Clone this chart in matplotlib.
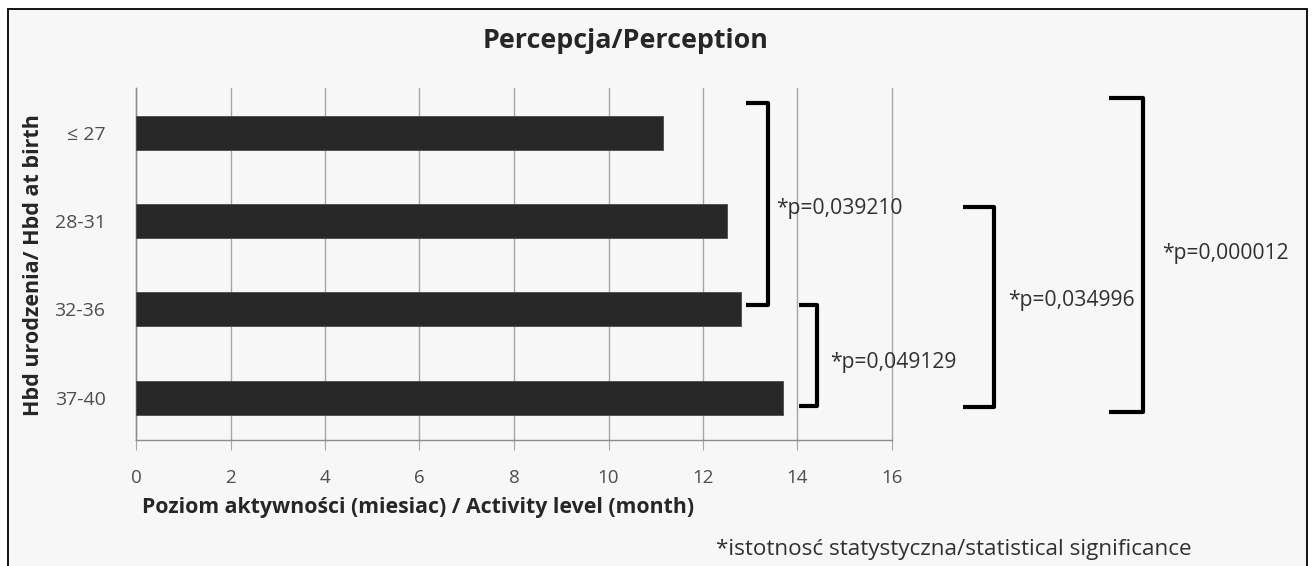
import matplotlib
matplotlib.use("Agg")
import matplotlib.pyplot as plt
from matplotlib.patches import Rectangle

# ---- data ----
categories = ["≤ 27", "28-31", "32-36", "37-40"]
values = [11.15, 12.5, 12.8, 13.7]
xticks = [0, 2, 4, 6, 8, 10, 12, 14, 16]
p_labels = ["*p=0,039210", "*p=0,049129", "*p=0,034996", "*p=0,000012"]
# which groups each comparison links (first, last)
p_pairs = [(0, 2), (2, 3), (1, 3), (0, 3)]

title = "Percepcja/Perception"
ylabel = "Hbd urodzenia/ Hbd at birth"
xlabel = "Poziom aktywności (miesiac) / Activity level (month)"
footnote = "*istotnosć statystyczna/statistical significance"

# ---- layout / style (not data) ----
plt.rcParams['font.family'] = ['Open Sans', 'DejaVu Sans']
W, H = 1312, 566
fig = plt.figure(figsize=(W / 100, H / 100), dpi=100)
fig.patch.set_facecolor("white")

# outer frame (open at the bottom)
frame = Rectangle((8 / W, -0.05), (1307 - 8) / W, 1.05 - 9 / H,
                  transform=fig.transFigure, facecolor="#f7f7f7",
                  edgecolor="black", linewidth=1.3, zorder=-10)
fig.patches.append(frame)

ax = fig.add_axes([136 / W, 1 - 440 / H, (892 - 136) / W, (440 - 88) / H])
ax.set_facecolor("none")
ax.set_zorder(1)

ypos = list(range(len(categories)))
ax.barh(ypos, values, height=0.385, color="#282828", edgecolor="#4a4a4a",
        linewidth=0.6, zorder=3)
ax.set_yticks(ypos)
ax.set_yticklabels(categories)
ax.set_ylim(3.48, -0.504)
ax.set_xlim(0, 16)
ax.set_xticks(xticks)
ax.set_xticklabels([str(t) for t in xticks])
ax.grid(axis="x", color="#a6a6a6", linewidth=1.0, zorder=0)
ax.grid(axis="y", visible=False)
for gl in ax.get_xgridlines():
    gl.set_clip_on(False)
for s in ["top", "right"]:
    ax.spines[s].set_visible(False)
for s in ["left", "bottom"]:
    ax.spines[s].set_color("#8c8c8c")
    ax.spines[s].set_linewidth(1.0)
ax.tick_params(axis="x", length=7, color="#a6a6a6", labelsize=13.5,
               labelcolor="#4d4d4d", pad=14)
ax.tick_params(axis="y", length=0, labelsize=14, labelcolor="#4d4d4d", pad=22)

# significance brackets: (x_open, x_bar, y_top, y_bottom, text_x, text_y)
bracket_geom = [
    (12.90, 13.38, -0.334, 1.95, 13.55, 0.855),
    (14.04, 14.41, 1.95, 3.09, 14.69, 2.60),
    (17.50, 18.15, 0.84, 3.11, 18.45, 1.90),
    (20.60, 21.32, -0.39, 3.165, 21.71, 1.365),
]
for (i0, i1), lab, (xo, xb, yt, yb, tx, ty) in zip(p_pairs, p_labels, bracket_geom):
    ax.plot([xo, xb, xb, xo], [yt, yt, yb, yb], color="black", linewidth=3.0,
            solid_joinstyle="round", solid_capstyle="butt", clip_on=False,
            zorder=4)
    ax.text(tx, ty, lab, fontsize=15.2, color="#303030", ha="left",
            va="center", clip_on=False)

fig.text(626 / W, 1 - 41 / H, title, ha="center", va="center", fontsize=19.4,
         fontweight="bold", color="#262626")
fig.text(34 / W, 1 - 265 / H, ylabel, rotation=90, ha="center", va="center",
         fontsize=15.5, fontweight="bold", color="#262626")
fig.text(142 / W, 1 - 507 / H, xlabel, ha="left", va="center", fontsize=15.3,
         fontweight="bold", color="#262626")
fig.text(716 / W, 1 - 550 / H, footnote, ha="left", va="center",
         fontsize=16.2, color="#303030")

fig.savefig("out.png", dpi=100, facecolor=fig.get_facecolor())
